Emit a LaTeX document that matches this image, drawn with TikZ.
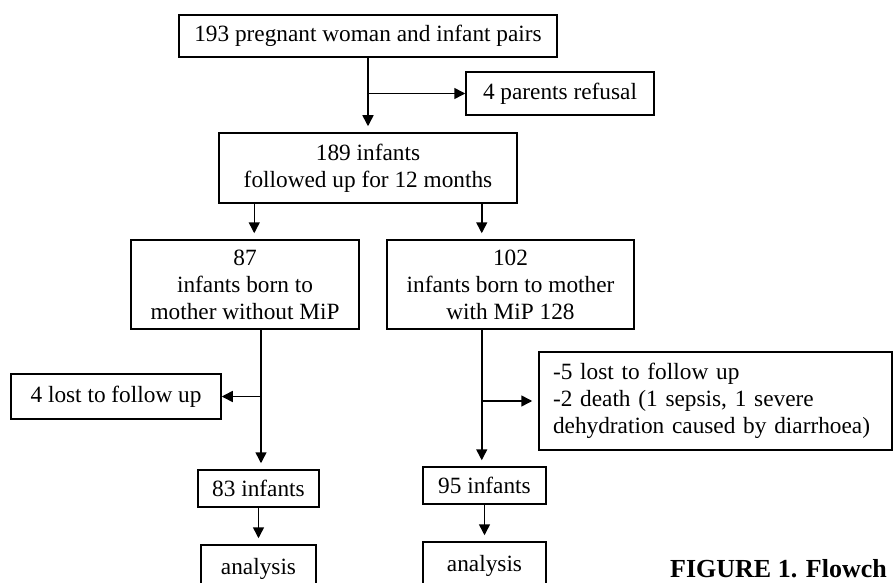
\documentclass[tikz,border=0pt]{standalone}
\usepackage{fontspec}
\setmainfont{Liberation Serif}
\usetikzlibrary{arrows.meta}
\begin{document}
\begin{tikzpicture}[x=1pt,y=-1pt,
  font=\fontsize{23.3}{27}\selectfont,
  box/.style={draw,line width=1.5pt,rectangle,inner sep=0pt,align=center},
  arr/.style={draw,line width=1.5pt,-{Triangle[length=11pt,width=11pt]}},
  gap/.style={shorten >=6pt}]
\clip (0,0) rectangle (894,583);
\fill[white] (0,0) rectangle (894,583);
\node[box,minimum width=378,minimum height=42] (A) at (368,36) {193 pregnant woman and infant pairs};
\node[box,minimum width=188,minimum height=43] (B) at (560,93.5) {4 parents refusal};
\node[box,minimum width=298,minimum height=70] (C) at (368,168) {189 infants\\followed up for 12 months};
\node[box,minimum width=228,minimum height=89] (D) at (245,284.5) {87\\infants born to\\mother without MiP};
\node[box,minimum width=247,minimum height=89] (E) at (510.5,284.5) {102\\infants born to mother\\with MiP 128};
\node[box,minimum width=210,minimum height=45] (L4) at (116,396.5) {4 lost to follow up};
\node[box,align=left,inner xsep=14pt,text width=325pt,minimum height=98] (F) at (715.5,401) {-5 lost to follow up\\-2 death (1 sepsis, 1 severe\\dehydration caused by diarrhoea)};
\node[box,minimum width=121,minimum height=37] (N83) at (258.5,488.5) {83 infants};
\node[box,minimum width=123,minimum height=37] (N95) at (484.5,485.5) {95 infants};
\node[box,minimum width=115,minimum height=48] (An1) at (258.5,569) {analysis};
\node[box,minimum width=123,minimum height=48] (An2) at (484.5,566) {analysis};
\node[anchor=base west,font=\fontsize{26}{30}\selectfont\bfseries,inner sep=0pt] (cap) at (670,577) {FIGURE 1. Flowch};
% connectors
\draw[arr,gap] (A.south) -- (C.north);
\draw[arr] (A.south |- B.west) -- (B.west);
\draw[arr,gap] ([xshift=36pt]C.south west) coordinate (c1) -- (c1 |- D.north);
\draw[arr,gap] ([xshift=-36pt]C.south east) coordinate (c2) -- (c2 |- E.north);
\draw[arr,gap] ([xshift=16pt]D.south) coordinate (d1) -- (d1 |- N83.north);
\draw[arr] (d1 |- L4.east) -- (L4.east);
\draw[arr,gap] (c2 |- E.south) -- (c2 |- N95.north);
\draw[arr,gap] (c2 |- F.west) -- (F.west);
\draw[arr,gap] (N83.south) -- (An1.north);
\draw[arr,gap] (N95.south) -- (An2.north);
\end{tikzpicture}
\end{document}
